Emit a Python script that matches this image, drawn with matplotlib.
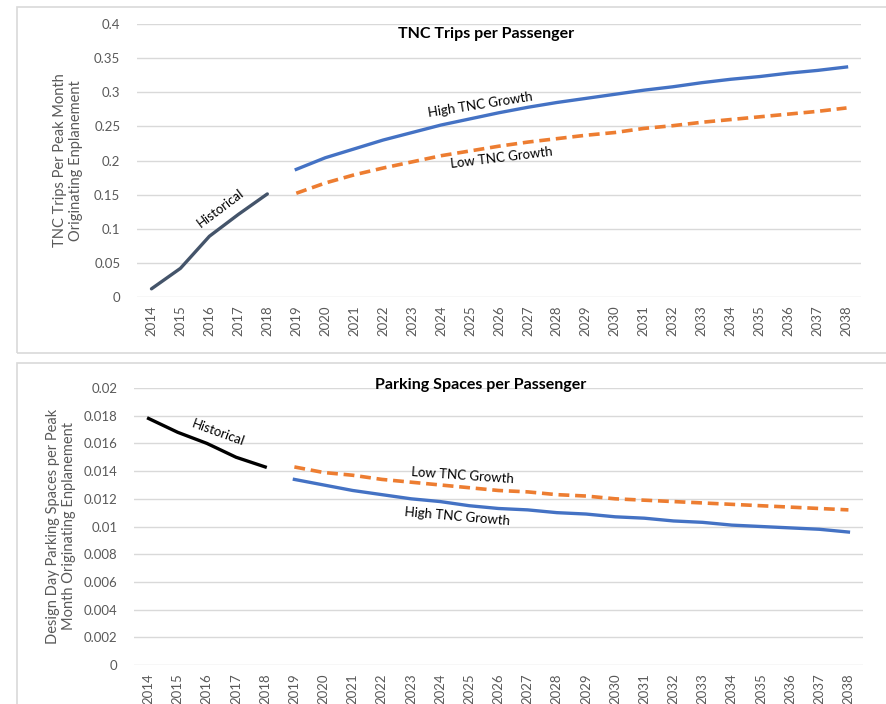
import matplotlib
matplotlib.use("Agg")
import matplotlib.pyplot as plt
from matplotlib.patches import Rectangle

plt.rcParams['font.family'] = ['Lato', 'DejaVu Sans']

years = [str(y) for y in range(2014, 2039)]

# TNC trips per passenger
tnc_hist = [0.012, 0.042, 0.089, 0.121, 0.151]
tnc_high = [0.187, 0.204, 0.217, 0.230, 0.241, 0.252, 0.261, 0.270, 0.278, 0.285,
            0.291, 0.297, 0.303, 0.308, 0.314, 0.319, 0.323, 0.328, 0.332, 0.337]
tnc_low = [0.152, 0.167, 0.179, 0.189, 0.198, 0.207, 0.214, 0.221, 0.227, 0.232,
           0.237, 0.241, 0.247, 0.251, 0.256, 0.260, 0.264, 0.268, 0.272, 0.277]

# Parking spaces per passenger
park_hist = [0.0178, 0.0168, 0.0160, 0.0150, 0.0143]
park_low = [0.0143, 0.0139, 0.0137, 0.0134, 0.0132, 0.0130, 0.0128, 0.0126, 0.0125, 0.0123,
            0.0122, 0.0120, 0.0119, 0.0118, 0.0117, 0.0116, 0.0115, 0.0114, 0.0113, 0.0112]
park_high = [0.0134, 0.0130, 0.0126, 0.0123, 0.0120, 0.0118, 0.0115, 0.0113, 0.0112, 0.0110,
             0.0109, 0.0107, 0.0106, 0.0104, 0.0103, 0.0101, 0.0100, 0.0099, 0.0098, 0.0096]

BLUE = '#4472C4'
ORANGE = '#ED7D31'
GRID = '#D9D9D9'
TXT = '#595959'

fig = plt.figure(figsize=(8.86, 7.04), dpi=100)

# panel borders
fig.patches.append(Rectangle((17/886, 1-353/704), 1.0, (353-7)/704, transform=fig.transFigure,
                             fill=False, edgecolor=GRID, lw=1.2))
fig.patches.append(Rectangle((17/886, -0.05), 1.0, 1-363/704+0.05, transform=fig.transFigure,
                             fill=False, edgecolor=GRID, lw=1.2))

ax1 = fig.add_axes([137/886, 1-297/704, (861-137)/886, (297-24)/704])
ax2 = fig.add_axes([134/886, 1-665/704, (863-134)/886, (665-388)/704])

x_hist = list(range(0, 5))
x_proj = list(range(5, 25))


def style(ax, ymax, step, fmt, ylabel):
    ax.set_xlim(-0.5, 24.5)
    ax.set_ylim(0, ymax)
    ticks = [i * step for i in range(int(round(ymax / step)) + 1)]
    ax.set_yticks(ticks)
    ax.set_yticklabels([fmt(t) for t in ticks])
    ax.set_xticks(range(len(years)))
    ax.set_xticklabels(years, rotation=90)
    ax.grid(axis='y', color=GRID, lw=1)
    ax.set_axisbelow(True)
    for s in ax.spines.values():
        s.set_visible(False)
    ax.tick_params(length=0, labelsize=9.5, labelcolor=TXT)
    ax.tick_params(axis='y', pad=12)
    ax.tick_params(axis='x', pad=6)
    ax.set_ylabel(ylabel, color=TXT, fontsize=10.5, linespacing=1.2)


def fmt_g(v):
    s = ('%.3f' % v).rstrip('0').rstrip('.')
    return s if s else '0'


style(ax1, 0.4, 0.05, fmt_g, 'TNC Trips Per Peak Month\nOriginating Enplanement')
ax1.yaxis.set_label_coords(-0.074, 0.5)
ax1.plot(x_hist, tnc_hist, color='#44546A', lw=2.4, solid_capstyle='round')
ax1.plot(x_proj, tnc_high, color=BLUE, lw=2.4)
ax1.plot(x_proj, tnc_low, color=ORANGE, lw=2.6, dashes=(3, 1.6))
ax1.set_title('TNC Trips per Passenger', fontsize=11.5, fontweight='bold', x=0.482, y=0.92)
ax1.text(2.37, 0.13, 'Historical', rotation=37, ha='center', va='center', fontsize=9.5)
ax1.text(11.35, 0.281, 'High TNC Growth', rotation=9, ha='center', va='center', fontsize=9.5)
ax1.text(12.1, 0.204, 'Low TNC Growth', rotation=7, ha='center', va='center', fontsize=9.5)

style(ax2, 0.02, 0.002, fmt_g, 'Design Day Parking Spaces per Peak\nMonth Originating Enplanement')
ax2.yaxis.set_label_coords(-0.079, 0.5)
ax2.plot(x_hist, park_hist, color='black', lw=2.4)
ax2.plot(x_proj, park_high, color=BLUE, lw=2.4)
ax2.plot(x_proj, park_low, color=ORANGE, lw=2.6, dashes=(3, 1.6))
ax2.set_title('Parking Spaces per Passenger', fontsize=11.5, fontweight='bold', x=0.476, y=0.965)
ax2.text(2.38, 0.0168, 'Historical', rotation=-20, ha='center', va='center', fontsize=9.5)
ax2.text(10.75, 0.01365, 'Low TNC Growth', rotation=-4, ha='center', va='center', fontsize=9.5)
ax2.text(10.6, 0.01069, 'High TNC Growth', rotation=-5, ha='center', va='center', fontsize=9.5)

fig.savefig('out.png', dpi=100)
